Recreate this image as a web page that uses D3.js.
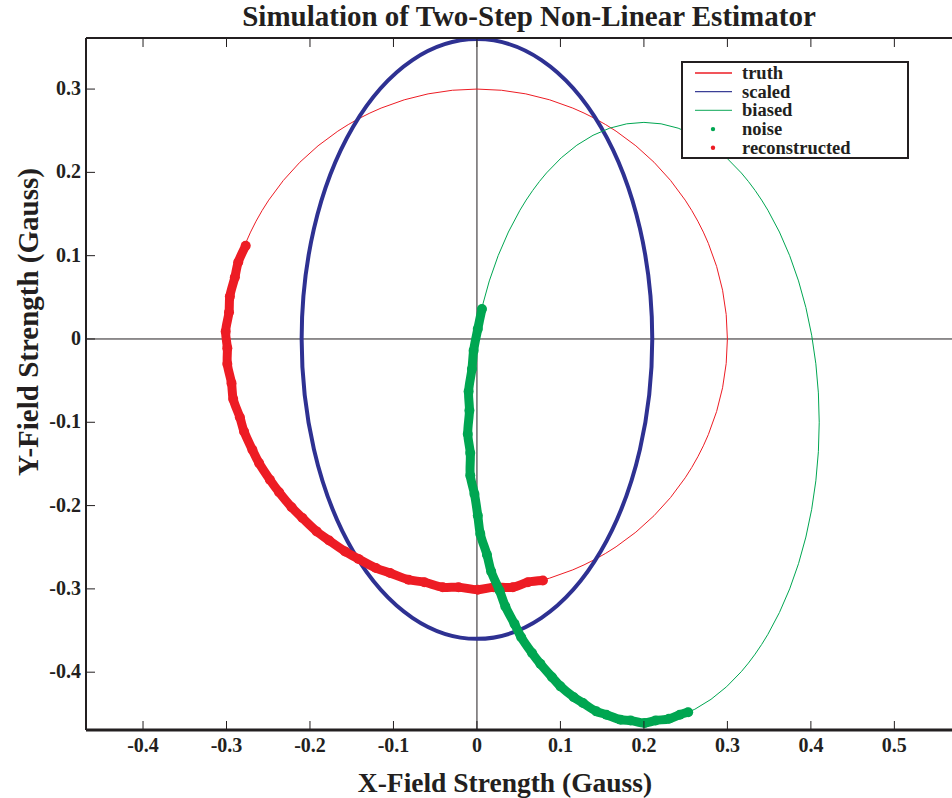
<!DOCTYPE html>
<html>
<head>
<meta charset="utf-8">
<script src="https://cdn.jsdelivr.net/npm/d3@7"></script>
<style>
  body { margin: 0; background: #fff; }
  text { font-family: "Liberation Serif", "Times New Roman", serif; font-weight: bold; fill: #231f20; }
</style>
</head>
<body>
<div id="chart"></div>
<script>
// ellipses: centre x, centre y, semi-axis x, semi-axis y
var ellipseNames = ["truth", "scaled", "biased"];
var ellipseCx = [0, 0, 0.2];
var ellipseCy = [0, 0, -0.1];
var ellipseRx = [0.3, 0.21, 0.21];
var ellipseRy = [0.3, 0.36, 0.36];

// noisy measurements (green band)
var noiseX = [0.006, 0.001, -0.004, -0.006, -0.010, -0.009, -0.011, -0.008, -0.008, -0.003, 0.001, 0.004,
              0.012, 0.017, 0.027, 0.034, 0.045, 0.053, 0.066, 0.076, 0.090, 0.100, 0.116, 0.127,
              0.143, 0.155, 0.172, 0.184, 0.201, 0.214, 0.230, 0.243, 0.253];
var noiseY = [0.036, 0.012, -0.014, -0.036, -0.063, -0.086, -0.114, -0.137, -0.164, -0.186, -0.212, -0.234,
              -0.259, -0.279, -0.302, -0.321, -0.342, -0.358, -0.377, -0.390, -0.406, -0.417, -0.430, -0.437,
              -0.447, -0.451, -0.457, -0.458, -0.461, -0.458, -0.456, -0.451, -0.448];

// reconstructed points (red band)
var reconX = [-0.277, -0.286, -0.290, -0.296, -0.297, -0.301, -0.299, -0.299, -0.294, -0.292, -0.284, -0.279,
              -0.269, -0.261, -0.248, -0.237, -0.222, -0.209, -0.192, -0.177, -0.158, -0.142, -0.121, -0.104,
              -0.082, -0.063, -0.041, -0.022, 0.001, 0.020, 0.043, 0.061, 0.079];
var reconY = [0.112, 0.092, 0.074, 0.051, 0.032, 0.009, -0.011, -0.030, -0.053, -0.072, -0.094, -0.111,
              -0.133, -0.149, -0.169, -0.184, -0.202, -0.215, -0.231, -0.242, -0.255, -0.264, -0.275, -0.281,
              -0.289, -0.292, -0.298, -0.298, -0.301, -0.298, -0.298, -0.292, -0.290];

var xTicks = [-0.4, -0.3, -0.2, -0.1, 0, 0.1, 0.2, 0.3, 0.4, 0.5];
var yTicks = [0.3, 0.2, 0.1, 0, -0.1, -0.2, -0.3, -0.4];

var legendNames = ["truth", "scaled", "biased", "noise", "reconstructed"];

var W = 952, H = 798;
var pLeft = 86, pTop = 38, pRight = 972, pBottom = 730;

var svg = d3.select("#chart").append("svg")
    .attr("width", W)
    .attr("height", H);

var x = d3.scaleLinear().domain([-0.4683, 0.593]).range([pLeft, pRight]);
var y = d3.scaleLinear().domain([-0.4694, 0.3613]).range([pBottom, pTop]);

var fmt = function(d) { return d === 0 ? "0" : d.toFixed(1); };

// zero lines
svg.append("line")
    .attr("x1", x(0)).attr("x2", x(0)).attr("y1", pTop).attr("y2", pBottom)
    .attr("stroke", "#231f20").attr("stroke-width", 1);
svg.append("line")
    .attr("x1", pLeft).attr("x2", pRight).attr("y1", y(0)).attr("y2", y(0))
    .attr("stroke", "#231f20").attr("stroke-width", 1);

// ellipses
var ellipseColor = ["#ed1c24", "#2e3192", "#00a651"];
var ellipseWidth = [1, 4, 1];
ellipseNames.forEach(function(n, i) {
    svg.append("ellipse")
        .attr("class", n)
        .attr("cx", x(ellipseCx[i]))
        .attr("cy", y(ellipseCy[i]))
        .attr("rx", x(ellipseCx[i] + ellipseRx[i]) - x(ellipseCx[i]))
        .attr("ry", y(ellipseCy[i]) - y(ellipseCy[i] + ellipseRy[i]))
        .attr("fill", "none")
        .attr("stroke", ellipseColor[i])
        .attr("stroke-width", ellipseWidth[i]);
});

// point bands
function band(xs, ys, color) {
    var pts = xs.map(function(d, i) { return [d, ys[i]]; });
    svg.append("path")
        .datum(pts)
        .attr("d", d3.line()
            .x(function(d) { return x(d[0]); })
            .y(function(d) { return y(d[1]); })
            .curve(d3.curveCatmullRom))
        .attr("fill", "none")
        .attr("stroke", color)
        .attr("stroke-width", 9)
        .attr("stroke-linecap", "round");
    svg.append("g").selectAll("circle")
        .data(pts)
        .join("circle")
        .attr("cx", function(d) { return x(d[0]); })
        .attr("cy", function(d) { return y(d[1]); })
        .attr("r", 5)
        .attr("fill", color);
}
band(reconX, reconY, "#ed1c24");
band(noiseX, noiseY, "#00a651");

// frame
svg.append("line").attr("x1", pLeft).attr("x2", pLeft).attr("y1", pTop).attr("y2", pBottom)
    .attr("stroke", "#231f20").attr("stroke-width", 2);
svg.append("line").attr("x1", pLeft).attr("x2", pRight).attr("y1", pTop).attr("y2", pTop)
    .attr("stroke", "#231f20").attr("stroke-width", 2);
svg.append("line").attr("x1", pLeft).attr("x2", pRight).attr("y1", pBottom).attr("y2", pBottom)
    .attr("stroke", "#231f20").attr("stroke-width", 3);

// ticks
svg.append("g").selectAll("line").data(xTicks).join("line")
    .attr("x1", function(d) { return x(d); }).attr("x2", function(d) { return x(d); })
    .attr("y1", pBottom).attr("y2", pBottom - 9)
    .attr("stroke", "#231f20").attr("stroke-width", 1);
svg.append("g").selectAll("line").data(xTicks).join("line")
    .attr("x1", function(d) { return x(d); }).attr("x2", function(d) { return x(d); })
    .attr("y1", pTop).attr("y2", pTop + 9)
    .attr("stroke", "#231f20").attr("stroke-width", 1);
svg.append("g").selectAll("line").data(yTicks).join("line")
    .attr("x1", pLeft).attr("x2", pLeft + 9)
    .attr("y1", function(d) { return y(d); }).attr("y2", function(d) { return y(d); })
    .attr("stroke", "#231f20").attr("stroke-width", 1);

svg.append("g").selectAll("text").data(xTicks).join("text")
    .attr("x", function(d) { return x(d); })
    .attr("y", 752)
    .attr("text-anchor", "middle")
    .style("font-size", "20px")
    .text(fmt);
svg.append("g").selectAll("text").data(yTicks).join("text")
    .attr("x", 81)
    .attr("y", function(d) { return y(d) + 6; })
    .attr("text-anchor", "end")
    .style("font-size", "20px")
    .text(fmt);

// titles
svg.append("text")
    .attr("x", 529).attr("y", 26)
    .attr("text-anchor", "middle")
    .style("font-size", "29px")
    .text("Simulation of Two-Step Non-Linear Estimator");
svg.append("text")
    .attr("x", 505).attr("y", 792)
    .attr("text-anchor", "middle")
    .style("font-size", "27.5px")
    .text("X-Field Strength (Gauss)");
svg.append("text")
    .attr("transform", "translate(38,322) rotate(-90)")
    .attr("text-anchor", "middle")
    .style("font-size", "29px")
    .text("Y-Field Strength (Gauss)");

// legend
var lg = svg.append("g").attr("transform", "translate(682,62)");
lg.append("rect")
    .attr("width", 226).attr("height", 96)
    .attr("fill", "#fff").attr("stroke", "#231f20").attr("stroke-width", 2);
var legendColor = ["#ed1c24", "#3b3f96", "#3cb878", "#00a651", "#ed1c24"];
legendNames.forEach(function(n, i) {
    var ry = 11 + i * 18.7;
    if (i < 3) {
        lg.append("line").attr("x1", 13).attr("x2", 50).attr("y1", ry).attr("y2", ry)
            .attr("stroke", legendColor[i]).attr("stroke-width", 1.3);
    } else {
        lg.append("circle").attr("cx", 31).attr("cy", ry).attr("r", 2.2).attr("fill", legendColor[i]);
    }
    lg.append("text").attr("x", 60).attr("y", ry + 6)
        .style("font-size", "18.5px").text(n);
});
</script>
</body>
</html>
